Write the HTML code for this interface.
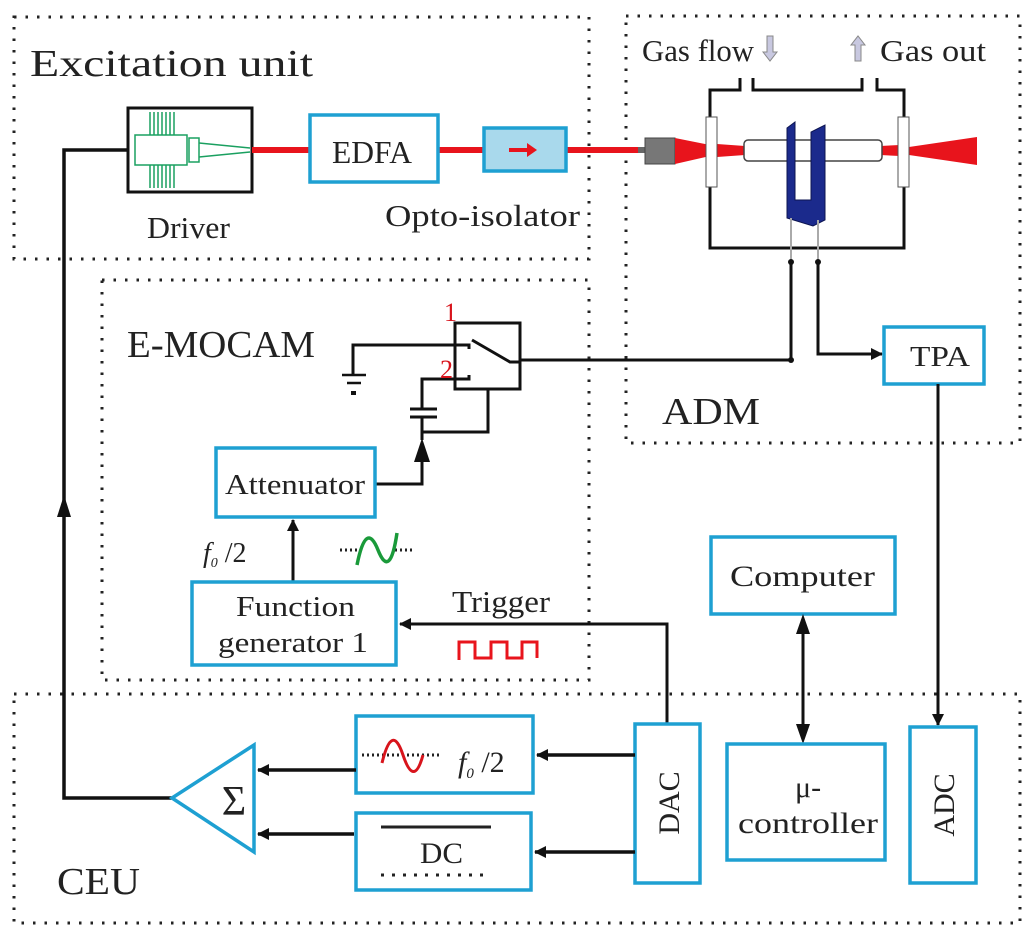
<!DOCTYPE html>
<html><head><meta charset="utf-8"><style>
html,body{margin:0;padding:0;background:#fff;}
svg{display:block;}
text{font-family:"Liberation Serif","Times New Roman",serif;fill:#222;}
</style></head><body>
<svg width="1024" height="937" viewBox="0 0 1024 937" xmlns="http://www.w3.org/2000/svg" font-family="Liberation Serif, serif">
<defs>
<marker id="ah" markerWidth="12" markerHeight="12" refX="11" refY="6" orient="auto" markerUnits="userSpaceOnUse"><path d="M0,0 L12,6 L0,12 z" fill="#111"/></marker>
</defs>
<g fill="none" stroke="#222" stroke-width="3" stroke-dasharray="2.5 9">
<rect x="14" y="17" width="575" height="242"/>
<rect x="626" y="16" width="394" height="427"/>
<rect x="102" y="280" width="487" height="400"/>
<rect x="14" y="694" width="1006" height="229"/>
</g>
<g font-size="38" lengthAdjust="spacingAndGlyphs">
<text x="30" y="76" textLength="283" lengthAdjust="spacingAndGlyphs">Excitation unit</text>
<text x="127" y="357" textLength="188" lengthAdjust="spacingAndGlyphs">E-MOCAM</text>
<text x="662" y="424" textLength="98" lengthAdjust="spacingAndGlyphs">ADM</text>
<text x="57" y="894" textLength="83" lengthAdjust="spacingAndGlyphs">CEU</text>
</g>
<g font-size="31">
<text x="642" y="61" textLength="112" lengthAdjust="spacingAndGlyphs">Gas flow</text>
<text x="880" y="61" textLength="106" lengthAdjust="spacingAndGlyphs">Gas out</text>
<text x="147" y="238" textLength="83" lengthAdjust="spacingAndGlyphs">Driver</text>
<text x="385" y="226" textLength="195" lengthAdjust="spacingAndGlyphs">Opto-isolator</text>
<text x="452" y="612" textLength="98" lengthAdjust="spacingAndGlyphs">Trigger</text>
</g>
<!-- gas arrows -->
<path d="M767,36 h6 v16 h4 l-7,9 l-7,-9 h4z" fill="#c8c8e0" stroke="#888" stroke-width="1"/>
<path d="M855,61 h6 v-16 h4 l-7,-9 l-7,9 h4z" fill="#c8c8e0" stroke="#888" stroke-width="1"/>
<!-- driver -->
<rect x="128" y="108" width="124" height="84" fill="#fff" stroke="#111" stroke-width="3"/>
<g stroke="#1aa060" stroke-width="1.5" fill="none">
<rect x="135" y="135" width="52" height="30"/>
<rect x="189" y="138" width="10" height="24"/>
<path d="M150,112v23M154,112v23M158,112v23M162,112v23M166,112v23M170,112v23M174,112v23 M150,165v23M154,165v23M158,165v23M162,165v23M166,165v23M170,165v23M174,165v23"/>
<path d="M199,143 L250,148 M199,157 L250,152"/>
</g>
<!-- red beam -->
<line x1="252" y1="150" x2="645" y2="150" stroke="#e8141c" stroke-width="6"/>
<rect x="310" y="115" width="128" height="67" fill="#fff" stroke="#1ea0d2" stroke-width="3.5"/>
<text x="332" y="163" font-size="32" textLength="80" lengthAdjust="spacingAndGlyphs">EDFA</text>
<rect x="484" y="128" width="82" height="43" fill="#a9d9ec" stroke="#1ea0d2" stroke-width="3.5"/>
<path d="M509,148 h18 v-5 l10,7 l-10,7 v-5 h-18z" fill="#e8141c"/>
<!-- collimator & beam -->
<rect x="638" y="147" width="8" height="6" fill="#666"/>
<rect x="645" y="138" width="30" height="26" fill="#777" stroke="#444" stroke-width="1"/>
<path d="M675,138 L710,145 L710,156 L675,164z" fill="#e8141c"/>
<path d="M717,144 L745,146 L745,155 L717,157z" fill="#e8141c"/>
<path d="M880,146 L900,145 L900,156 L880,155z" fill="#e8141c"/>
<path d="M909,147 L977,137 L977,165 L909,155z" fill="#e8141c"/>
<!-- cell -->
<path d="M740,78 V90 H710 V248 H904 V90 H877 V78 M753,78 V90 H862 V78" fill="none" stroke="#111" stroke-width="3"/>
<rect x="706" y="117" width="11" height="70" fill="#fff" stroke="#555" stroke-width="1"/>
<rect x="898" y="117" width="11" height="70" fill="#fff" stroke="#555" stroke-width="1"/>
<rect x="744" y="140" width="138" height="21" rx="4" fill="#fff" stroke="#444" stroke-width="1.5"/>
<path d="M787,128 L795,122 L795,200 L811,200 L811,132 L825,125 L825,220 L813,226 L787,218 z" fill="#1b2a8c" stroke="#0c1450" stroke-width="1"/>
<line x1="791" y1="218" x2="791" y2="262" stroke="#aaa" stroke-width="2"/>
<line x1="818" y1="220" x2="818" y2="262" stroke="#aaa" stroke-width="2"/>
<circle cx="791" cy="262" r="3" fill="#111"/><circle cx="818" cy="262" r="3" fill="#111"/>
<!-- wires -->
<g stroke="#111" stroke-width="3" fill="none">
<path d="M791,262 V360 H520"/>
<path d="M818,262 V354 H882" marker-end="url(#ah)"/>
<rect x="455" y="323" width="65" height="66"/>
<path d="M353,375 V345 H469 v4"/>
<path d="M472,340 L510,362 H520"/>
<path d="M469,375 v4 H422 V409 M422,417 V440"/>
<path d="M410,409 H437 M410,417 H437" stroke-width="3"/>
<path d="M422,432 H488 V389"/>
<path d="M372,484 H422 V445"/>
<path d="M342,375 H366 M347,383 H361" stroke-width="2.5"/>
</g>
<path d="M422,438 L414,462 L430,462z" fill="#111"/>
<rect x="351" y="391" width="5" height="4" fill="#111"/>
<circle cx="791" cy="360" r="3" fill="#111"/>
<text x="444" y="321" font-size="26" style="fill:#d8141c">1</text>
<text x="440" y="378" font-size="26" style="fill:#d8141c">2</text>
<!-- TPA -->
<rect x="884" y="327" width="100" height="57" fill="#fff" stroke="#1ea0d2" stroke-width="3.5"/>
<text x="910" y="366" font-size="29" textLength="60" lengthAdjust="spacingAndGlyphs">TPA</text>
<line x1="938" y1="384" x2="938" y2="725" stroke="#111" stroke-width="3" marker-end="url(#ah)"/>
<!-- attenuator -->
<rect x="216" y="448" width="159" height="69" fill="#fff" stroke="#1ea0d2" stroke-width="3.5"/>
<text x="225" y="494" font-size="28" textLength="140" lengthAdjust="spacingAndGlyphs">Attenuator</text>
<line x1="293" y1="582" x2="293" y2="520" stroke="#111" stroke-width="3" marker-end="url(#ah)"/>
<text x="203" y="562" font-size="28" font-style="italic">f<tspan font-size="14" dy="5">0</tspan><tspan dy="-5" font-style="normal"> /2</tspan></text>
<path d="M340,550 h18" stroke="#222" stroke-width="3" stroke-dasharray="2 3"/>
<path d="M395,550 h20" stroke="#222" stroke-width="3" stroke-dasharray="2 3"/>
<path d="M357,565 Q366,520 378,550 T397,533" stroke="#1a9a3a" stroke-width="3.5" fill="none"/>
<!-- function generator -->
<rect x="192" y="582" width="204" height="83" fill="#fff" stroke="#1ea0d2" stroke-width="3.5"/>
<text x="236" y="616" font-size="29" textLength="119" lengthAdjust="spacingAndGlyphs">Function</text>
<text x="218" y="652" font-size="29" textLength="150" lengthAdjust="spacingAndGlyphs">generator 1</text>
<path d="M667,724 V624 H400" stroke="#111" stroke-width="3" fill="none" marker-end="url(#ah)"/>
<path d="M459,660 V642 H475 V658 H491 V642 H507 V658 H522 V642 H537 V658" stroke="#e8141c" stroke-width="3" fill="none"/>
<!-- computer -->
<rect x="711" y="537" width="184" height="77" fill="#fff" stroke="#1ea0d2" stroke-width="3.5"/>
<text x="730" y="586" font-size="30" textLength="145" lengthAdjust="spacingAndGlyphs">Computer</text>
<line x1="803" y1="630" x2="803" y2="728" stroke="#111" stroke-width="3"/>
<path d="M803,614 L796,634 L810,634z M803,744 L796,724 L810,724z" fill="#111"/>
<rect x="727" y="744" width="158" height="116" fill="#fff" stroke="#1ea0d2" stroke-width="3.5"/>
<text x="795" y="797" font-size="30">μ-</text>
<text x="738" y="833" font-size="30" textLength="140" lengthAdjust="spacingAndGlyphs">controller</text>
<rect x="910" y="727" width="66" height="156" fill="#fff" stroke="#1ea0d2" stroke-width="3.5"/>
<text transform="translate(954,805) rotate(-90)" font-size="30" text-anchor="middle">ADC</text>
<rect x="635" y="724" width="65" height="159" fill="#fff" stroke="#1ea0d2" stroke-width="3.5"/>
<text transform="translate(679,803) rotate(-90)" font-size="30" text-anchor="middle">DAC</text>
<!-- sine / dc boxes -->
<rect x="356" y="716" width="177" height="77" fill="#fff" stroke="#1ea0d2" stroke-width="3.5"/>
<path d="M362,755 h80" stroke="#222" stroke-width="3" stroke-dasharray="2 3"/>
<path d="M382,763 Q392,722 403,755 T423,755" stroke="#d8141c" stroke-width="3" fill="none"/>
<text x="458" y="772" font-size="30" font-style="italic">f<tspan font-size="15" dy="6">0</tspan><tspan dy="-6" font-style="normal"> /2</tspan></text>
<rect x="356" y="813" width="175" height="77" fill="#fff" stroke="#1ea0d2" stroke-width="3.5"/>
<line x1="381" y1="827" x2="491" y2="827" stroke="#222" stroke-width="3"/>
<text x="420" y="863" font-size="30" textLength="43" lengthAdjust="spacingAndGlyphs">DC</text>
<path d="M381,875 h110" stroke="#222" stroke-width="3" stroke-dasharray="3 8"/>
<g stroke="#111" stroke-width="3.5" fill="none">
<line x1="635" y1="755" x2="537" y2="755" marker-end="url(#ah)"/>
<line x1="635" y1="852" x2="535" y2="852" marker-end="url(#ah)"/>
<line x1="356" y1="770" x2="258" y2="770" marker-end="url(#ah)"/>
<line x1="354" y1="834" x2="258" y2="834" marker-end="url(#ah)"/>
<path d="M172,798 H64 V150 H128"/>
</g>
<path d="M64,495 L57,517 L71,517z" fill="#111"/>
<path d="M172,798 L254,745 L254,852z" fill="#fff" stroke="#1ea0d2" stroke-width="3.5"/>
<text x="234" y="815" font-size="42" text-anchor="middle">Σ</text>
</svg>
</body></html>
